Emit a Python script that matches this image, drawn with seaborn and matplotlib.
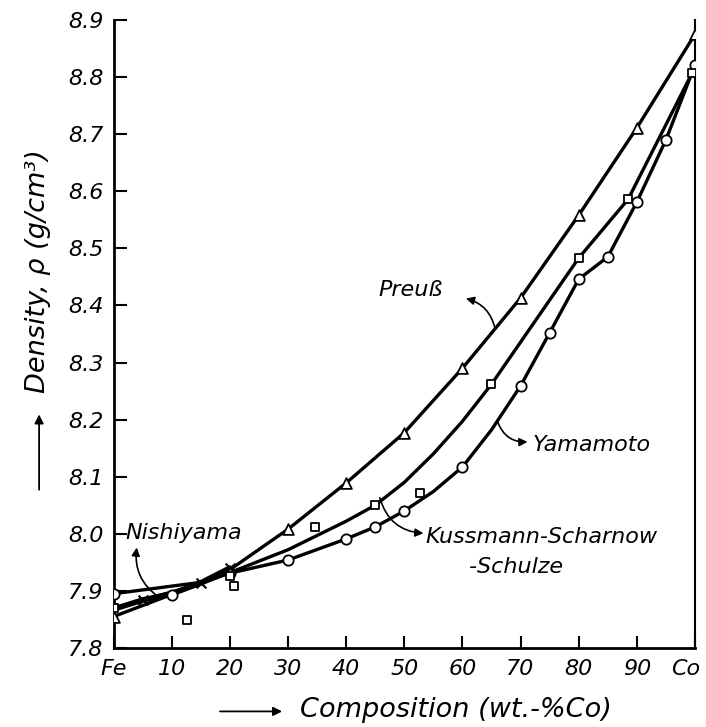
import matplotlib
matplotlib.use("Agg")
import matplotlib.pyplot as plt
import matplotlib.transforms as mtransforms
import seaborn as sns

# Density of Fe-Co alloys, rho (g/cm^3) versus wt.-% Co
# Preuss (triangles)
preuss_x = [0, 30, 40, 50, 60, 70, 80, 90, 100]
preuss_rho = [7.855, 8.008, 8.089, 8.177, 8.290, 8.413, 8.558, 8.711, 8.875]
preuss_line_x = [0, 15, 20, 30, 40, 50, 60, 70, 80, 90, 100]
preuss_line_rho = [7.855, 7.913, 7.937, 8.008, 8.089, 8.177, 8.290, 8.413, 8.558, 8.711, 8.875]

# Yamamoto (circles)
yamamoto_x = [0, 10, 20, 30, 40, 45, 50, 60, 70, 75, 80, 85, 90, 95, 100]
yamamoto_rho = [7.895, 7.893, 7.931, 7.954, 7.991, 8.012, 8.040, 8.117, 8.259,
                8.352, 8.446, 8.485, 8.581, 8.690, 8.821]
yamamoto_line_x = [0, 15, 20, 30, 40, 45, 50, 55, 60, 65, 70, 75, 80, 85, 90, 95, 100]
yamamoto_line_rho = [7.895, 7.915, 7.931, 7.954, 7.991, 8.012, 8.040, 8.074, 8.117, 8.182,
                     8.259, 8.352, 8.446, 8.485, 8.581, 8.690, 8.821]

# Kussmann-Scharnow-Schulze (squares)
kss_x = [0, 20, 45, 65, 80, 88.5, 99.5, 12.6, 20.8, 34.6, 52.7]
kss_rho = [7.870, 7.926, 8.050, 8.262, 8.483, 8.586, 8.807, 7.849, 7.909, 8.012, 8.071]
kss_line_x = [0, 15, 20, 30, 40, 45, 50, 55, 60, 65, 80, 88.5, 99.5]
kss_line_rho = [7.870, 7.912, 7.932, 7.972, 8.022, 8.050, 8.090, 8.140, 8.197, 8.262,
                8.483, 8.586, 8.807]

# Nishiyama (crosses)
nishiyama_x = [5, 15, 20]
nishiyama_rho = [7.884, 7.914, 7.940]
nishiyama_line_x = [0, 5, 10, 15, 20]
nishiyama_line_rho = [7.868, 7.884, 7.895, 7.914, 7.940]

x_ticks = [0, 10, 20, 30, 40, 50, 60, 70, 80, 90, 100]
x_tick_labels = ["Fe", "10", "20", "30", "40", "50", "60", "70", "80", "90", "Co"]
y_ticks = [7.8, 7.9, 8.0, 8.1, 8.2, 8.3, 8.4, 8.5, 8.6, 8.7, 8.8, 8.9]

sns.set_style("ticks")
plt.rcParams["font.family"] = ["DejaVu Sans"]
plt.rcParams["font.style"] = "italic"
for key in ("text.color", "axes.labelcolor", "xtick.color", "ytick.color", "axes.edgecolor"):
    plt.rcParams[key] = "black"

fig = plt.figure(figsize=(7.06, 7.27), dpi=100)
ax = fig.add_axes([0.1608, 0.1087, 0.8236, 0.8638])

line_kw = dict(ax=ax, color="black", sort=False, estimator=None, legend=False)
sns.lineplot(x=preuss_line_x, y=preuss_line_rho, lw=2.4, **line_kw)
sns.lineplot(x=yamamoto_line_x, y=yamamoto_line_rho, lw=2.4, **line_kw)
sns.lineplot(x=kss_line_x, y=kss_line_rho, lw=2.4, **line_kw)
sns.lineplot(x=nishiyama_line_x, y=nishiyama_line_rho, lw=4.0, **line_kw)

mk = dict(ax=ax, facecolor="white", edgecolor="black", linewidth=1.3, zorder=5, legend=False)
sns.scatterplot(x=preuss_x, y=preuss_rho, marker="^", s=60, **mk)
sns.scatterplot(x=yamamoto_x, y=yamamoto_rho, marker="o", s=55, **mk)
sns.scatterplot(x=kss_x, y=kss_rho, marker="s", s=40, **mk)
sns.scatterplot(x=nishiyama_x, y=nishiyama_rho, marker="x", s=50, color="black",
                linewidth=1.5, zorder=6, ax=ax, legend=False)

ax.set_xlim(0, 100)
ax.set_ylim(7.8, 8.9)
ax.set_xticks(x_ticks)
ax.set_xticklabels(x_tick_labels)
ax.set_yticks(y_ticks)
ax.set_yticklabels([f"{v:.1f}" for v in y_ticks])
ax.tick_params(direction="in", length=9, width=1.5, labelsize=16)
ax.tick_params(axis="x", pad=8)
ax.tick_params(axis="y", pad=7)
# pull the "Co" label slightly inside the figure edge
co_label = ax.get_xticklabels()[-1]
co_label.set_transform(co_label.get_transform()
                       + mtransforms.ScaledTranslation(-9 / 100, 0, fig.dpi_scale_trans))

ax.spines["top"].set_visible(False)
ax.spines["left"].set_linewidth(2.0)
ax.spines["bottom"].set_linewidth(2.0)
ax.spines["right"].set_linewidth(1.5)

# axis titles with their leading arrows
ax.text(0.589, -0.099, "Composition (wt.-%Co)", transform=ax.transAxes,
        ha="center", va="center", fontsize=19.5)
ax.annotate("", xy=(0.290, -0.101), xytext=(0.183, -0.101), xycoords="axes fraction",
            arrowprops=dict(arrowstyle="-|>", color="black", lw=1.3, mutation_scale=13,
                            shrinkA=0, shrinkB=0), annotation_clip=False)
ax.text(-0.130, 0.600, "Density, ρ (g/cm³)", transform=ax.transAxes, rotation=90,
        ha="center", va="center", fontsize=19.5)
ax.annotate("", xy=(-0.128, 0.372), xytext=(-0.128, 0.252), xycoords="axes fraction",
            arrowprops=dict(arrowstyle="-|>", color="black", lw=1.3, mutation_scale=13,
                            shrinkA=0, shrinkB=0), annotation_clip=False)

# curve labels with curved pointers
txt = dict(fontsize=16, style="italic", color="black")
arr = dict(arrowstyle="-|>", color="black", lw=1.2, mutation_scale=12, shrinkA=0, shrinkB=0)

ax.text(45.5, 8.427, "Preuß", va="center", ha="left", **txt)
ax.annotate("", xy=(60.6, 8.412), xytext=(65.6, 8.360),
            arrowprops=dict(connectionstyle="arc3,rad=0.3", **arr))

ax.text(72.0, 8.155, "Yamamoto", va="center", ha="left", **txt)
ax.annotate("", xy=(71.2, 8.161), xytext=(66.1, 8.195),
            arrowprops=dict(connectionstyle="arc3,rad=0.35", **arr))

ax.text(53.6, 7.994, "Kussmann-Scharnow", va="center", ha="left", **txt)
ax.text(61.2, 7.942, "-Schulze", va="center", ha="left", **txt)
ax.annotate("", xy=(53.3, 8.001), xytext=(45.8, 8.063),
            arrowprops=dict(connectionstyle="arc3,rad=0.35", **arr))

ax.text(2.0, 8.001, "Nishiyama", va="center", ha="left", **txt)
ax.annotate("", xy=(4.0, 7.976), xytext=(7.8, 7.889),
            arrowprops=dict(connectionstyle="arc3,rad=-0.3", **arr))

fig.savefig("out.png", dpi=100)
